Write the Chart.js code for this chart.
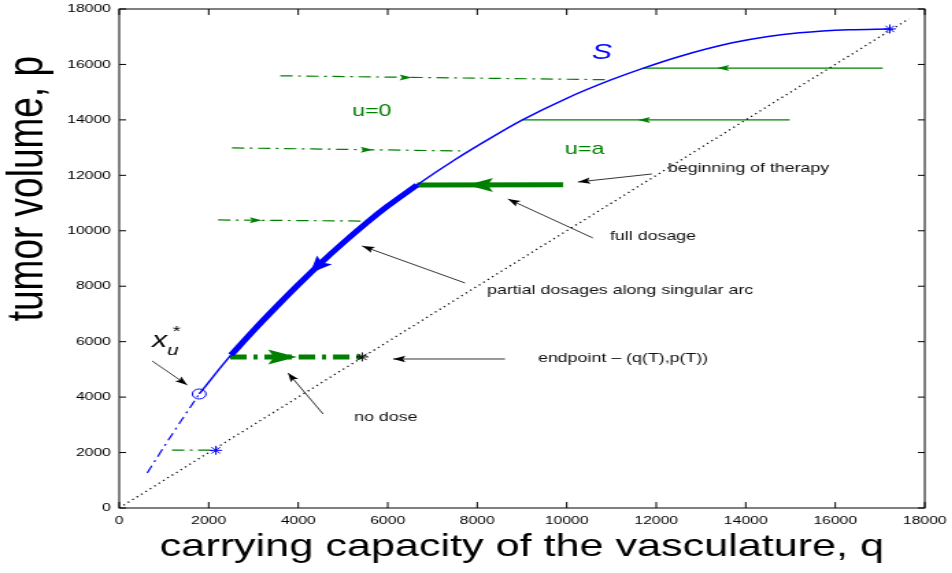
<!DOCTYPE html>
<html>
<head>
<meta charset="utf-8">
<script src="https://cdn.jsdelivr.net/npm/chart.js@4.4.1/dist/chart.umd.min.js"></script>
<style>
  html, body { margin: 0; padding: 0; background: #fff; overflow: hidden; }
  /* the original figure is stretched sideways, so the whole canvas is too */
  #chart { display: block; transform: scaleX(1.37); transform-origin: 0 0; }
</style>
</head>
<body>
<canvas id="chart" width="695" height="573"></canvas>
<script>
const FONT = '"Liberation Sans", Arial, Helvetica, sans-serif';
const BLUE = '#0000ff';
const GREEN = '#008000';

const tickValues = [0, 2000, 4000, 6000, 8000, 10000, 12000, 14000, 16000, 18000];

// singular arc S (q, p)
const arcQ = [625, 1200, 1787, 2500, 3000, 3500, 4000, 4500, 5000, 5500, 6000, 6655, 7500, 8200, 9000, 10000, 11000, 11700, 12500, 13700, 14500, 15200, 16300, 17220];
const arcP = [1263, 2700, 4113, 5520, 6400, 7240, 8050, 8830, 9560, 10250, 10890, 11652, 12560, 13250, 13990, 14780, 15450, 15860, 16280, 16780, 17010, 17140, 17250, 17280];

// diagonal p = q
const diagQ = [0, 17650];
const diagP = [0, 17650];

// u = 0 trajectories (dash-dot)
const freeQ = [[3600, 10850], [2520, 7620], [2210, 5430], [1180, 2160]];
const freeP = [[15590, 15450], [12990, 12880], [10390, 10350], [2090, 2090]];
const freeArrowQ = [6540, 5670, 3190];

// u = a trajectories (solid)
const fullQ = [[11700, 17060], [9020, 14980]];
const fullP = [[15870, 15870], [14000, 14000]];
const fullArrowQ = [13355, 11590];

// optimal path: full dosage, singular arc, no dose
const therapyQ = [6655, 9920];
const therapyP = [11652, 11660];
const therapyArrowQ = 7770;
const finalQ = [2480, 5430];
const finalP = [5450, 5450];
const finalArrowQ = 3970;
const arcArrow = { tipQ: 4265, tipP: 8470, backQ: 4800, backP: 9270 };

// markers
const circleQ = [1787];
const circleP = [4113];
const blueStarQ = [2160, 17220];
const blueStarP = [2080, 17280];
const blackStarQ = [5430];
const blackStarP = [5450];

// notes with pointer arrows
const noteText = ['beginning of therapy', 'full dosage', 'partial dosages along singular arc', 'endpoint \u2013 (q(T),p(T))', 'no dose'];
const noteQ = [12260, 10965, 8218, 9357, 5248];
const noteP = [12266, 9812, 7864, 5411, 3283];
const pointerFromQ = [11903, 10585, 7727, 8620, 4556, 737];
const pointerFromP = [12049, 9740, 8117, 5375, 3391, 5303];
const pointerToQ = [10250, 8687, 5427, 6119, 3774, 1519];
const pointerToP = [11760, 11147, 9452, 5375, 4870, 4437];

const pts = (qs, ps) => qs.map((q, i) => ({ x: q, y: ps[i] }));

const line = (data, color, width, dash, smooth) => ({
  data: data,
  showLine: true,
  borderColor: color,
  borderWidth: width,
  borderDash: dash || [],
  borderCapStyle: 'butt',
  pointRadius: 0,
  fill: false,
  cubicInterpolationMode: smooth ? 'monotone' : 'default'
});

const arc = pts(arcQ, arcP);
const DASHDOT = [9, 4, 2, 4];

const datasets = [
  {
    data: pts(circleQ, circleP), pointStyle: 'circle', pointRadius: 5,
    borderColor: BLUE, backgroundColor: 'rgba(0,0,0,0)', borderWidth: 1
  },
  {
    data: pts(blueStarQ, blueStarP), pointStyle: 'star', pointRadius: 4.5,
    borderColor: BLUE, borderWidth: 1
  },
  {
    data: pts(blackStarQ, blackStarP), pointStyle: 'star', pointRadius: 4.5,
    borderColor: '#000', borderWidth: 1
  },
  line(arc.slice(3, 12), BLUE, 5, null, true),
  line(arc.slice(2), BLUE, 1.5, null, true),
  line(arc.slice(0, 3), BLUE, 1.2, [8, 4, 2, 4], true),
  line(pts(therapyQ, therapyP), GREEN, 5),
  line(pts(finalQ, finalP), GREEN, 5, [12, 5, 3, 5]),
  line(pts(diagQ, diagP), '#000', 1.3, [1.2, 3])
];
freeQ.forEach((qs, i) => datasets.push(line(pts(qs, freeP[i]), GREEN, 1.2, DASHDOT)));
fullQ.forEach((qs, i) => datasets.push(line(pts(qs, fullP[i]), GREEN, 1.3)));

function arrowHead(ctx, tx, ty, fx, fy, len, half, color) {
  const ang = Math.atan2(ty - fy, tx - fx);
  ctx.save();
  ctx.translate(tx, ty);
  ctx.rotate(ang);
  ctx.beginPath();
  ctx.moveTo(0, 0);
  ctx.lineTo(-len, -half);
  ctx.lineTo(-len * 0.8, 0);
  ctx.lineTo(-len, half);
  ctx.closePath();
  ctx.fillStyle = color;
  ctx.fill();
  ctx.restore();
}

const overlay = {
  id: 'overlay',
  afterDraw(chart) {
    const { ctx, chartArea: a, scales: { x, y } } = chart;
    const X = v => x.getPixelForValue(v);
    const Y = v => y.getPixelForValue(v);

    ctx.save();
    // box and inward ticks
    ctx.strokeStyle = '#000';
    ctx.lineWidth = 1;
    ctx.strokeRect(a.left, a.top, a.right - a.left, a.bottom - a.top);
    ctx.beginPath();
    tickValues.forEach(v => {
      ctx.moveTo(X(v), a.bottom); ctx.lineTo(X(v), a.bottom - 6);
      ctx.moveTo(X(v), a.top); ctx.lineTo(X(v), a.top + 6);
      ctx.moveTo(a.left, Y(v)); ctx.lineTo(a.left + 5, Y(v));
      ctx.moveTo(a.right, Y(v)); ctx.lineTo(a.right - 5, Y(v));
    });
    ctx.stroke();

    // arrowheads on trajectories
    freeArrowQ.forEach((q, i) => {
      const p = freeP[i][0] + (freeP[i][1] - freeP[i][0]) * (q - freeQ[i][0]) / (freeQ[i][1] - freeQ[i][0]);
      arrowHead(ctx, X(q), Y(p), X(q) - 10, Y(p), 9, 3, GREEN);
    });
    fullArrowQ.forEach((q, i) => {
      arrowHead(ctx, X(q), Y(fullP[i][0]), X(q) + 10, Y(fullP[i][0]), 9, 3, GREEN);
    });
    arrowHead(ctx, X(therapyArrowQ), Y(therapyP[0]), X(therapyArrowQ) + 10, Y(therapyP[0]), 19, 7, GREEN);
    arrowHead(ctx, X(finalArrowQ), Y(finalP[0]), X(finalArrowQ) - 10, Y(finalP[0]), 21, 7.5, GREEN);
    arrowHead(ctx, X(arcArrow.tipQ), Y(arcArrow.tipP), X(arcArrow.backQ), Y(arcArrow.backP), 17, 7, BLUE);

    // pointer arrows
    ctx.strokeStyle = '#000';
    ctx.lineWidth = 0.8;
    pointerFromQ.forEach((q, i) => {
      const fx = X(q), fy = Y(pointerFromP[i]);
      const tx = X(pointerToQ[i]), ty = Y(pointerToP[i]);
      ctx.beginPath();
      ctx.moveTo(fx, fy);
      ctx.lineTo(tx, ty);
      ctx.stroke();
      arrowHead(ctx, tx, ty, fx, fy, 9, 3.2, '#000');
    });

    // notes
    ctx.textAlign = 'left';
    ctx.textBaseline = 'middle';
    ctx.fillStyle = '#111';
    ctx.font = '13px ' + FONT;
    noteText.forEach((t, i) => ctx.fillText(t, X(noteQ[i]), Y(noteP[i])));

    ctx.fillStyle = GREEN;
    ctx.font = '17px ' + FONT;
    ctx.fillText('u=0', X(5203), Y(14322));
    ctx.fillText('u=a', X(9960), Y(12951));

    ctx.fillStyle = BLUE;
    ctx.font = 'italic 22px ' + FONT;
    ctx.fillText('S', X(10563), Y(16414));

    // x_u^*
    ctx.fillStyle = '#000';
    const xx = X(737), xy = Y(6025);
    ctx.font = 'italic 22px ' + FONT;
    ctx.fillText('x', xx, xy);
    ctx.font = 'italic 15px ' + FONT;
    ctx.fillText('u', xx + 11, xy + 10);
    ctx.font = '15px ' + FONT;
    ctx.fillText('*', xx + 15, xy - 9);

    // y axis title
    ctx.save();
    ctx.translate(30.5, a.top + (a.bottom - a.top) * 0.36);
    ctx.rotate(-Math.PI / 2);
    ctx.textAlign = 'center';
    ctx.textBaseline = 'alphabetic';
    ctx.font = '37px ' + FONT;
    ctx.fillText('tumor volume, p', 0, 0);
    ctx.restore();

    ctx.restore();
  }
};

const tickFont = { family: FONT, size: 11.5 };

new Chart(document.getElementById('chart'), {
  type: 'scatter',
  data: { datasets: datasets },
  options: {
    responsive: false,
    animation: false,
    events: [],
    devicePixelRatio: 1,
    layout: { padding: { left: 0, right: 20, top: 9, bottom: 0 } },
    plugins: { legend: { display: false }, tooltip: { enabled: false } },
    scales: {
      x: {
        type: 'linear', min: 0, max: 18000,
        afterBuildTicks: s => { s.ticks = tickValues.map(v => ({ value: v })); },
        ticks: { color: '#000', font: tickFont, padding: 6, maxRotation: 0, autoSkip: false, callback: v => String(v) },
        grid: { display: false, drawTicks: false },
        border: { display: false },
        title: {
          display: true, text: 'carrying capacity of the vasculature, q', color: '#000',
          font: { family: FONT, size: 31.5 }, padding: { top: 0, bottom: 7 }
        },
        afterFit: s => { s.height = 65; s.paddingLeft = 0; s.paddingRight = 0; }
      },
      y: {
        type: 'linear', min: 0, max: 18000,
        afterBuildTicks: s => { s.ticks = tickValues.map(v => ({ value: v })); },
        ticks: { color: '#000', font: tickFont, padding: 6, autoSkip: false, callback: v => String(v) },
        grid: { display: false, drawTicks: false },
        border: { display: false },
        afterFit: s => { s.width = 87; s.paddingTop = 0; s.paddingBottom = 0; }
      }
    }
  },
  plugins: [overlay]
});
</script>
</body>
</html>
